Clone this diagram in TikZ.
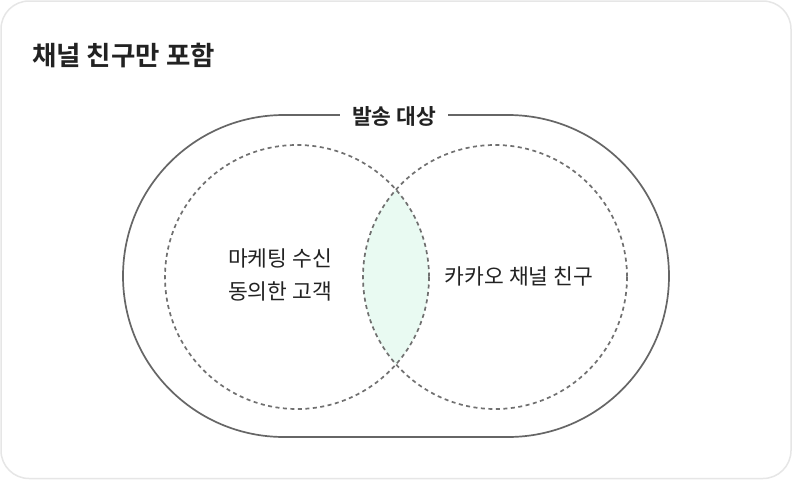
\documentclass[tikz,border=0pt]{standalone}
\usepackage{fontspec}
\setmainfont{Noto Sans CJK KR}
\newfontfamily\krbold{Noto Sans CJK KR Bold}
\definecolor{cardline}{HTML}{E6E6E6}
\definecolor{outline}{HTML}{666666}
\definecolor{dashline}{HTML}{707070}
\definecolor{lensfill}{HTML}{E9FAF2}
\definecolor{txt}{HTML}{222222}
\tikzset{
  card/.style={draw=cardline, line width=1.5pt, rounded corners=28pt, fill=white},
  stadium/.style={draw=outline, line width=1.7pt},
  dashcircle/.style={draw=dashline, line width=1.7pt, dash pattern=on 4pt off 3.5pt},
  bodytext/.style={font=\fontsize{21.5}{33}\selectfont, text=txt, inner sep=0pt, align=center},
  titletext/.style={font=\krbold\fontsize{26.5}{30}\selectfont, text=txt, inner sep=0pt, anchor=west},
  labeltext/.style={font=\krbold\fontsize{21.5}{25}\selectfont, text=txt, fill=white, inner xsep=12pt, inner ysep=2pt}
}
\begin{document}
\begin{tikzpicture}[x=1pt,y=-1pt]
\useasboundingbox (0,0) rectangle (792,480);
\draw[card] (1,1) rectangle (791,478.5);
% stadium
\draw[stadium] (284,115) -- (508,115) arc[start angle=-90, end angle=90, radius=161] -- (284,437) arc[start angle=90, end angle=270, radius=161] -- cycle;
% lens
\begin{scope}
  \clip (297,277) circle[radius=132];
  \fill[lensfill] (495,277) circle[radius=132];
\end{scope}
\draw[dashcircle] (297,277) circle[radius=132];
\draw[dashcircle] (495,277) circle[radius=132];
\node[labeltext] (lab) at (394,116) {발송 대상};
\node[titletext] (title) at (32,55) {채널 친구만 포함};
\node[bodytext] (left) at (280,275) {마케팅 수신\\동의한 고객};
\node[bodytext] (right) at (519,276) {카카오 채널 친구};
\end{tikzpicture}
\end{document}
